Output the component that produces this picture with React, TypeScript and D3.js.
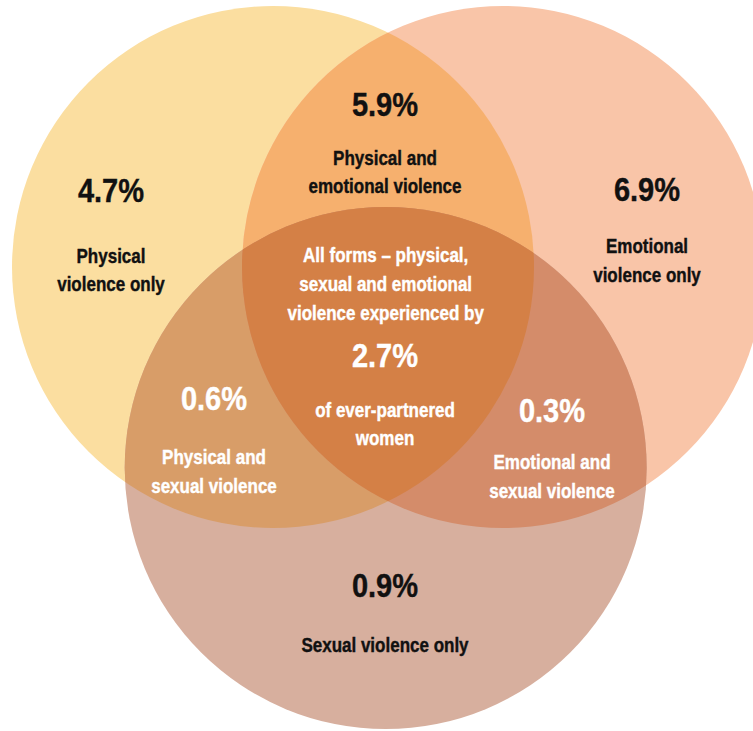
import * as d3 from "d3"
import React, { useRef, useEffect } from "react"

// sets and region values (percent of ever-partnered women)
const sets = ["Physical", "Emotional", "Sexual"]
const setColors = ["#FBDEA0", "#F9C5A8", "#D7AF9E"]

const regionKeys = ["P", "E", "S", "PE", "PS", "ES", "PES"]
const regionValues = [4.7, 6.9, 0.9, 5.9, 0.6, 0.3, 2.7]
const regionLabels = [
  ["Physical", "violence only"],
  ["Emotional", "violence only"],
  ["Sexual violence only"],
  ["Physical and", "emotional violence"],
  ["Physical and", "sexual violence"],
  ["Emotional and", "sexual violence"],
  ["of ever-partnered", "women"],
]
const centreIntro = ["All forms – physical,", "sexual and emotional", "violence experienced by"]
const pairColors = { PE: "#F6B06E", PS: "#D89D68", ES: "#D48C6A" }
const tripleColor = "#D48046"

const width = 753,
  height = 731

export default function App() {
  const ref = useRef<SVGSVGElement>(null)

  useEffect(() => {
    const svg = d3.select(ref.current)
    svg.selectAll("*").remove()

    // unit layout -> pixels
    const x = d3.scaleLinear().domain([0, 1]).range([273, 503])
    const y = d3.scaleLinear().domain([0, 1]).range([267, 468])
    const r = 261

    const circles = [
      { cx: x(0), cy: y(0) },
      { cx: x(1), cy: y(0) },
      { cx: x(0.49), cy: y(1) },
    ]

    const defs = svg.append("defs")
    circles.forEach((c, i) => {
      defs
        .append("clipPath")
        .attr("id", "clip" + i)
        .append("circle")
        .attr("cx", c.cx)
        .attr("cy", c.cy)
        .attr("r", r)
    })

    // single circles
    svg
      .selectAll("circle.set")
      .data(circles)
      .join("circle")
      .attr("class", "set")
      .attr("cx", (d) => d.cx)
      .attr("cy", (d) => d.cy)
      .attr("r", r)
      .attr("fill", (d, i) => setColors[i])

    // pairwise overlaps
    const pairs: [number, number, string][] = [
      [0, 1, pairColors.PE],
      [0, 2, pairColors.PS],
      [1, 2, pairColors.ES],
    ]
    pairs.forEach(([a, b, col]) => {
      svg
        .append("circle")
        .attr("cx", circles[a].cx)
        .attr("cy", circles[a].cy)
        .attr("r", r)
        .attr("fill", col)
        .attr("clip-path", `url(#clip${b})`)
    })

    // triple overlap
    svg
      .append("g")
      .attr("clip-path", "url(#clip1)")
      .append("circle")
      .attr("cx", circles[0].cx)
      .attr("cy", circles[0].cy)
      .attr("r", r)
      .attr("fill", tripleColor)
      .attr("clip-path", "url(#clip2)")

    const font = "'Liberation Sans', Arial, sans-serif"
    const fmt = (v: number) => v.toFixed(1) + "%"

    // label anchors for each region
    const anchors = {
      P: { x: 111, y: 190, ly: [256, 284], fill: "#111" },
      E: { x: 647, y: 189, ly: [246, 275], fill: "#111" },
      S: { x: 385, y: 585, ly: [645], fill: "#111" },
      PE: { x: 385, y: 104, ly: [158, 186], fill: "#111" },
      PS: { x: 214, y: 398, ly: [457, 486], fill: "#fff" },
      ES: { x: 552, y: 410, ly: [462, 491], fill: "#fff" },
      PES: { x: 385, y: 355, ly: [410, 438], fill: "#fff" },
    }

    const g = svg
      .append("g")
      .attr("font-family", font)
      .attr("font-weight", "bold")
      .attr("text-anchor", "middle")

    // slightly stroked to match the heavy condensed face of the original
    const addText = (tx: number, ty: number, size: number, sx: number, fill: string, s: string) =>
      g
        .append("text")
        .attr("transform", `translate(${tx},${ty}) scale(${sx},1)`)
        .attr("dy", "0.36em")
        .attr("font-size", size)
        .attr("fill", fill)
        .attr("stroke", fill)
        .attr("stroke-width", 0.4)
        .text(s)

    regionKeys.forEach((k, i) => {
      const a = anchors[k]
      addText(a.x, a.y, 33, 0.88, a.fill, fmt(regionValues[i]))
      regionLabels[i].forEach((line, j) => addText(a.x, a.ly[j], 20, 0.85, a.fill, line))
    })

    centreIntro.forEach((line, j) => addText(x(0.49), 255 + j * 29, 20, 0.85, "#fff", line))
  }, [])

  return (
    <svg
      ref={ref}
      width={width}
      height={height}
      style={{ position: "absolute", left: 0, top: 0, background: "#fff" }}
    />
  )
}
